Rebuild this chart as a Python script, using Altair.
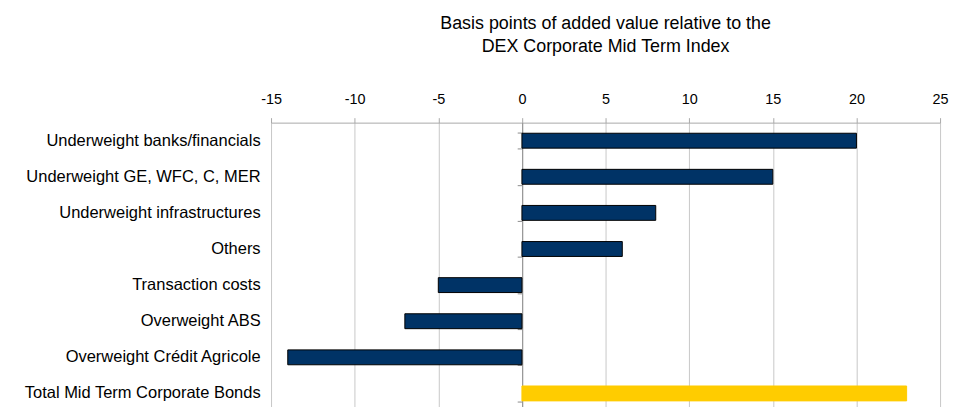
import altair as alt
import pandas as pd

categories = [
    "Underweight banks/financials",
    "Underweight GE, WFC, C, MER",
    "Underweight infrastructures",
    "Others",
    "Transaction costs",
    "Overweight ABS",
    "Overweight Crédit Agricole",
    "Total Mid Term Corporate Bonds",
]
values = [20, 15, 8, 6, -5, -7, -14, 23]
kinds = ["Contribution"] * 7 + ["Total"]
x_ticks = [-15, -10, -5, 0, 5, 10, 15, 20, 25]
title_lines = ["Basis points of added value relative to the", "DEX Corporate Mid Term Index"]

df = pd.DataFrame({"category": categories, "value": values, "kind": kinds})

FONT = "Liberation Sans"
y_scale = alt.Scale(range=[0, 291], paddingInner=0.56, paddingOuter=0.28)

bars = alt.Chart(df).mark_bar(size=15, strokeWidth=1).encode(
    x=alt.X(
        "value:Q",
        scale=alt.Scale(domain=[-15, 25], nice=False, zero=False),
        axis=alt.Axis(
            orient="top", values=x_ticks, grid=True, gridColor="#c8c8c8",
            domainColor="#a8a8a8", tickColor="#a8a8a8", tickSize=5,
            labelFontSize=14.5, labelPadding=11, labelColor="#000000",
            labelFont=FONT, labelFlush=False, labelExpr="toString(datum.value)",
            title=None,
        ),
    ),
    y=alt.Y(
        "category:N", sort=categories, scale=y_scale,
        axis=alt.Axis(
            title=None, ticks=False, domain=False, labelFontSize=16.6,
            labelPadding=11, labelLimit=400, labelColor="#000000", labelFont=FONT,
            grid=False,
        ),
    ),
    color=alt.Color(
        "kind:N",
        scale=alt.Scale(domain=["Contribution", "Total"], range=["#003366", "#FFCC00"]),
        legend=None,
    ),
    stroke=alt.Stroke(
        "kind:N",
        scale=alt.Scale(domain=["Contribution", "Total"], range=["#000000", "#FFCC00"]),
        legend=None,
    ),
)

zero_axis = alt.Chart(df).mark_point(opacity=0).encode(
    x=alt.X("value:Q"),
    y=alt.Y(
        "category:N", sort=categories, scale=y_scale,
        axis=alt.Axis(
            orient="left", offset=-253, labels=False, ticks=True, tickBand="extent",
            tickSize=5, tickColor="#8c8c8c", domainColor="#8c8c8c", title=None, grid=False,
        ),
    ),
)

chart = (
    alt.layer(bars, zero_axis)
    .resolve_axis(y="independent")
    .properties(
        width=674,
        height=285,
        padding={"left": 265, "top": 114, "right": 10, "bottom": 0},
        autosize=alt.AutoSizeParams(type="none"),
        title=alt.TitleParams(
            title_lines, fontSize=18, fontWeight="normal", font=FONT,
            anchor="middle", offset=36, lineHeight=23, color="#000000",
        ),
    )
    .configure_view(stroke=None)
)

chart.save("out.html", embed_options={"renderer": "svg", "actions": False})
